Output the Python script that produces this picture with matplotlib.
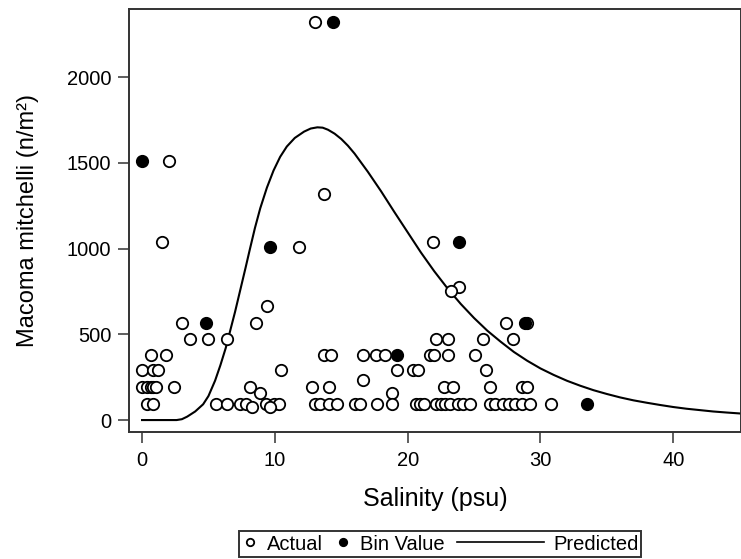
"""
Macoma mitchelli density vs salinity: actual samples, bin values and
the fitted (predicted) curve, redrawn from the published figure.
"""

import matplotlib
matplotlib.use('Agg')
import matplotlib.pyplot as plt
from matplotlib.lines import Line2D
from matplotlib.legend_handler import HandlerLine2D

plt.rcParams['font.family'] = ['Liberation Sans', 'DejaVu Sans']

# ── data ───────────────────────────────────────────────────────────────────
actual_x = [
    13.0,
    2.0,
    13.7,
    1.5, 21.9,
    11.8,
    23.9,
    23.3,
    9.4,
    3.0, 8.6, 27.4, 29.0,
    3.6, 5.0, 6.4, 22.1, 23.0, 25.7, 27.9,
    0.7, 1.8, 13.7, 14.2, 16.6, 17.6, 18.3, 21.7, 22.0, 23.0, 25.1,
    0.0, 0.85, 1.2, 10.5, 19.2, 20.4, 20.8, 25.9,
    16.6,
    0.0, 0.4, 0.65, 0.85, 1.05, 2.4, 8.1, 12.8, 14.1, 22.7, 23.4, 26.2,
    28.6, 29.0,
    8.9, 18.8,
    0.35, 0.8, 5.6, 6.4, 7.4, 7.8, 9.3, 9.9, 10.3, 13.0, 13.4, 14.1, 14.7,
    16.0, 16.4, 17.7, 18.8, 20.6, 20.9, 21.2, 22.1, 22.5, 22.8, 23.2, 23.8,
    24.2, 24.7, 26.2, 26.6, 27.2, 27.6, 28.1, 28.6, 29.2, 30.8,
    8.3, 9.6,
]
actual_y = (
    [2320]
    + [1510]
    + [1320]
    + [1040] * 2
    + [1010]
    + [775]
    + [755]
    + [665]
    + [565] * 4
    + [470] * 7
    + [380] * 11
    + [290] * 8
    + [235]
    + [190] * 14
    + [155] * 2
    + [95] * 35
    + [75] * 2
)

bin_x = [0.0, 4.8, 9.6, 14.4, 19.2, 23.9, 28.8, 33.5]
bin_y = [1510, 565, 1010, 2320, 380, 1040, 565, 93]

# predicted curve, traced point by point
pred_x = [0.0, 2.6, 3.0, 3.4, 4.0, 4.6, 5.0, 5.5, 5.9, 6.3, 6.6, 7.0, 7.4,
          7.8, 8.1, 8.5, 8.9, 9.4, 9.9, 10.4, 10.9, 11.5, 12.2, 12.7, 13.2,
          13.6, 14.0, 14.5, 15.0, 15.5, 16.0, 17.0, 18.0, 19.0, 20.0, 21.0,
          22.0, 23.0, 24.0, 25.0, 26.0, 27.0, 28.0, 29.0, 30.0, 31.0, 32.0,
          33.0, 34.0, 35.0, 36.0, 37.0, 38.0, 39.0, 40.0, 41.0, 42.0, 43.0,
          44.0, 45.1]
pred_y = [0, 0, 5, 20, 50, 92, 140, 230, 320, 420, 510, 630, 760,
          890, 990, 1120, 1235, 1355, 1455, 1535, 1595, 1645, 1682, 1700, 1707,
          1705, 1693, 1670, 1639, 1600, 1554, 1448, 1334, 1213, 1095, 977,
          868, 768, 677, 595, 521, 457, 397, 346, 301, 263, 229,
          200, 174, 152, 132, 115, 101, 88, 76, 66, 58, 50,
          44, 38]

x_ticks = [0, 10, 20, 30, 40]
y_ticks = [0, 500, 1000, 1500, 2000]


class LongLineHandler(HandlerLine2D):
    """Line handle stretched wider than the marker handles."""

    def __init__(self, factor, **kw):
        super().__init__(**kw)
        self.factor = factor

    def legend_artist(self, legend, orig_handle, fontsize, handlebox):
        handlebox.width *= self.factor
        return super().legend_artist(legend, orig_handle, fontsize, handlebox)


# ── plot ───────────────────────────────────────────────────────────────────
fig = plt.figure(figsize=(7.41, 5.59), dpi=100)
ax = fig.add_axes([0.1745, 0.2277, 0.8255, 0.7562])

frame = '#333333'
ax.plot(pred_x, pred_y, color='black', lw=1.5, zorder=2)
ax.plot(actual_x, actual_y, ls='none', marker='o', ms=8.2, mfc='white',
        mec='black', mew=1.3, zorder=3)
ax.plot(bin_x, bin_y, ls='none', marker='o', ms=8.2, mfc='black',
        mec='black', mew=1.3, zorder=4)

ax.set_xlim(-0.96, 45.1)
ax.set_ylim(-68, 2397)
ax.set_xticks(x_ticks)
ax.set_yticks(y_ticks)
ax.tick_params(axis='both', direction='out', length=8, width=1.1,
               color=frame, labelsize=14.5, labelcolor='black')
ax.tick_params(axis='x', pad=6)
ax.tick_params(axis='y', pad=5)
for s in ax.spines.values():
    s.set_color(frame)
    s.set_linewidth(1.4)

ax.set_xlabel('Salinity (psu)', fontsize=18, labelpad=12)
ax.set_ylabel('Macoma mitchelli (n/m²)', fontsize=17, labelpad=20)

handles = [
    Line2D([], [], ls='none', marker='o', ms=8.2, mfc='white', mec='black',
           mew=1.3),
    Line2D([], [], ls='none', marker='o', ms=8.2, mfc='black', mec='black',
           mew=1.3),
    Line2D([], [], color='black', lw=1.2),
]
leg = fig.legend(handles, ['Actual', 'Bin Value', 'Predicted'],
                 loc='center', bbox_to_anchor=(440 / 741, 1 - 544 / 559),
                 ncol=3, fontsize=14.5, frameon=True, fancybox=False,
                 edgecolor='black', borderpad=0.15, handlelength=0.8,
                 handletextpad=0.45, columnspacing=0.6, markerscale=0.65,
                 borderaxespad=0,
                 handler_map={handles[2]: LongLineHandler(5.4)})
leg.get_frame().set_linewidth(1.4)

fig.savefig('out.png', dpi=100)
